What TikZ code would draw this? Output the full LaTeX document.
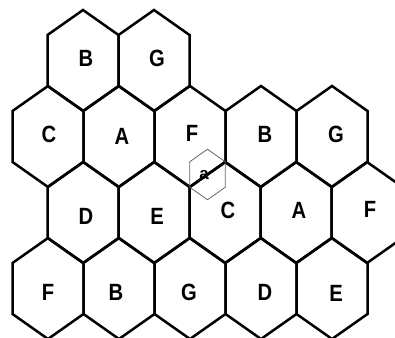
\documentclass[tikz,border=0pt]{standalone}
\usepackage{fontspec}
\setmainfont{Liberation Sans}
\begin{document}
\begin{tikzpicture}[x=1pt,y=-1pt,
  hexline/.style={line width=2.5pt,line join=miter,black},
  smallhex/.style={line width=0.8pt,gray!80!black},
  lbl/.style={font=\fontsize{23.5}{23.5}\selectfont\bfseries,inner sep=0pt,xscale=0.86},
  smalllbl/.style={font=\fontsize{17}{17}\selectfont\bfseries,inner sep=0pt}]
\useasboundingbox (0,0) rectangle (395,337);
\clip (0,0) rectangle (395,337);
% big hexagons (half width 35.5, tip 50.5, shoulder 25.5)
\foreach \cx/\cy in {83/60.5,154/60.5,
  48/136.5,119/136.5,190/136.5,261/136.5,332/136.5,
  83/212.5,154/212.5,225/212.5,296/212.5,367/212.5,
  48/288.5,119/288.5,190/288.5,261/288.5,332/288.5}{
  \draw[hexline] (\cx,\cy-50.5) -- (\cx+35.5,\cy-25.5) -- (\cx+35.5,\cy+25.5)
    -- (\cx,\cy+50.5) -- (\cx-35.5,\cy+25.5) -- (\cx-35.5,\cy-25.5) -- cycle;
}
% small hexagon a
\draw[smallhex] (207.5,149.25) -- (225.25,161.75) -- (225.25,187.25)
  -- (207.5,199.75) -- (189.75,187.25) -- (189.75,161.75) -- cycle;
% labels
\node[lbl] (b1) at (86,58) {B};
\node[lbl] (g1) at (157,58) {G};
\node[lbl] (c2) at (49,134) {C};
\node[lbl] (a2) at (122,136) {A};
\node[lbl] (f2) at (192,133) {F};
\node[lbl] (b2) at (265,134) {B};
\node[lbl] (g2) at (336,134) {G};
\node[lbl] (d3) at (86,216) {D};
\node[lbl] (e3) at (157,216) {E};
\node[lbl] (c3) at (228,210) {C};
\node[lbl] (a3) at (299,210) {A};
\node[lbl] (f3) at (370,209) {F};
\node[lbl] (f4) at (48,292) {F};
\node[lbl] (b4) at (116,292) {B};
\node[lbl] (g4) at (189,292) {G};
\node[lbl] (d4) at (265,292) {D};
\node[lbl] (e4) at (336,293) {E};
\node[smalllbl] (sa) at (204,175) {a};
\end{tikzpicture}
\end{document}
